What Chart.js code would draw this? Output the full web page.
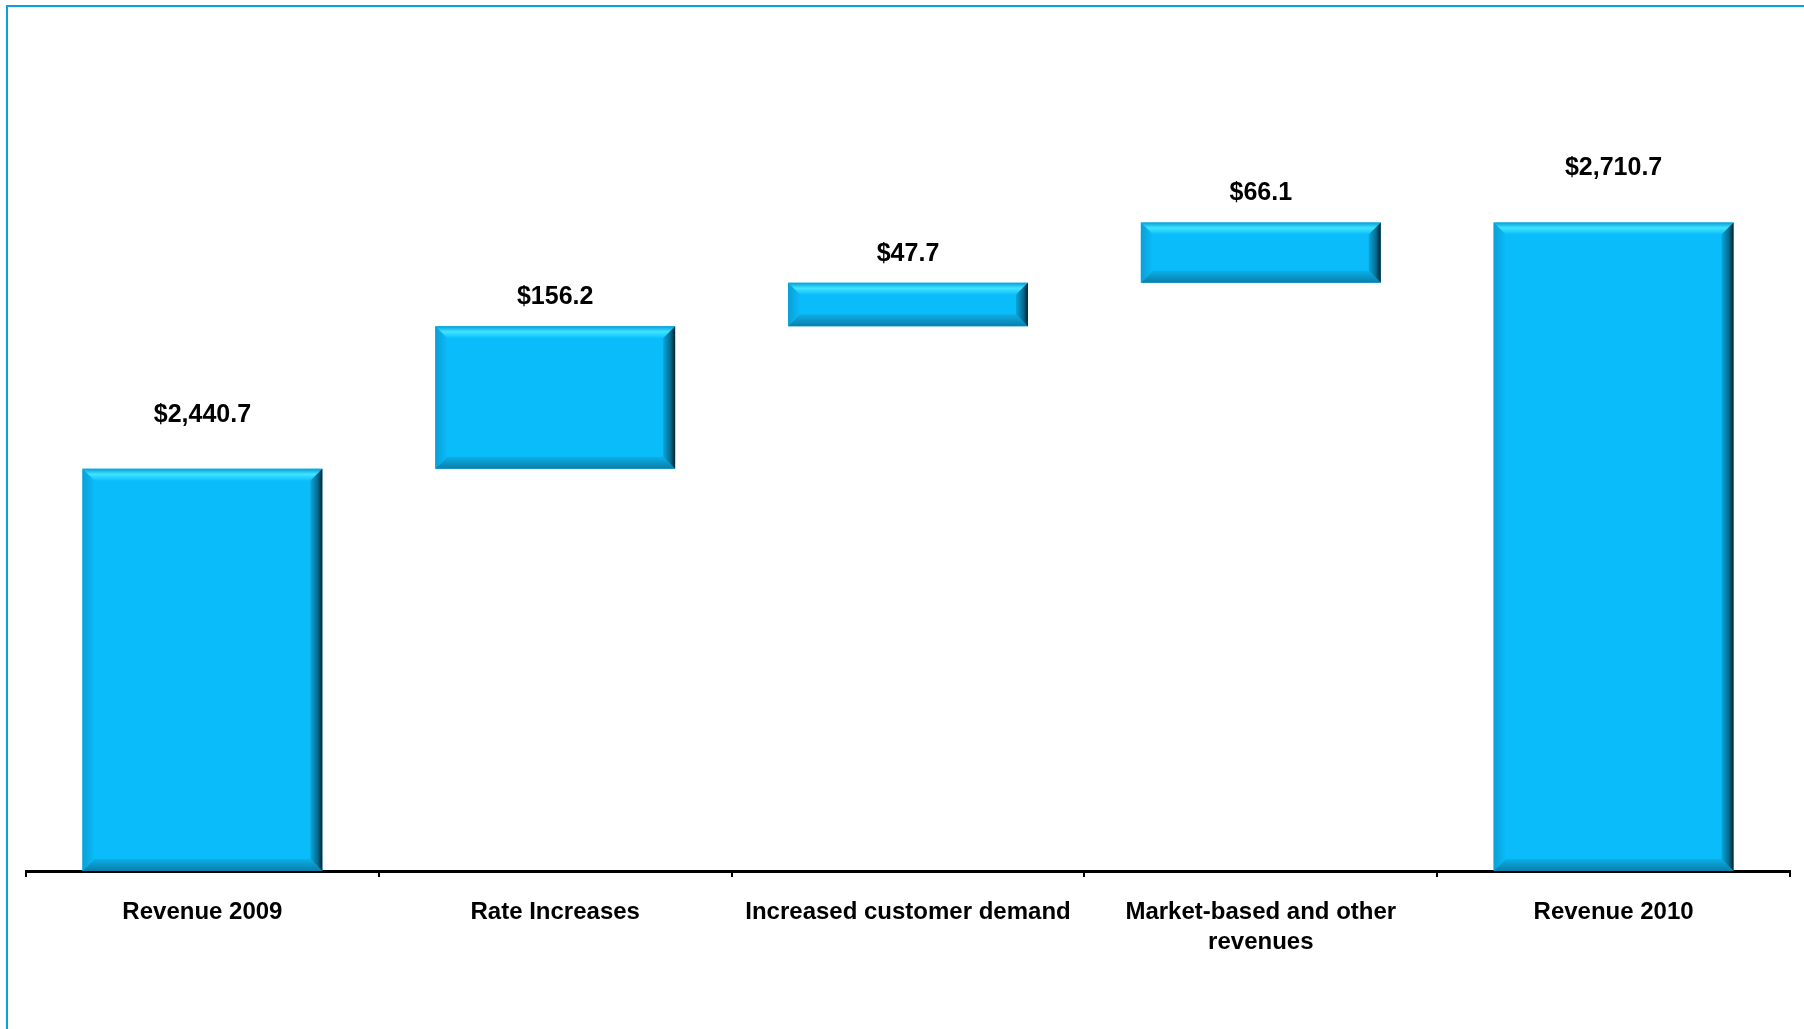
<!DOCTYPE html>
<html>
<head>
<meta charset="utf-8">
<script src="https://cdn.jsdelivr.net/npm/chart.js@4.4.1/dist/chart.umd.min.js"></script>
<style>
  html, body { margin: 0; padding: 0; background: #fff; }
  #wrap { position: relative; width: 1804px; height: 1029px; }
  #frame { position: absolute; left: 6px; top: 5px; right: 0; bottom: 0;
           border-top: 2px solid #0AA2DE; border-left: 2px solid #0AA2DE; pointer-events: none; }
</style>
</head>
<body>
<div id="wrap">
  <canvas id="myChart"></canvas>
  <div id="frame"></div>
</div>
<script>
// waterfall: revenue bridge 2009 -> 2010 ($ millions)
var categories = ['Revenue 2009', 'Rate Increases', 'Increased customer demand',
                  ['Market-based and other', 'revenues'], 'Revenue 2010'];
var values = [2440.7, 156.2, 47.7, 66.1, 2710.7];
var kinds = ['total', 'delta', 'delta', 'delta', 'total'];
var axisMin = 2000;
var axisMax = 2800;

// build floating [start, end] pairs
var ranges = [];
var running = 0;
values.forEach(function (v, i) {
    if (kinds[i] === 'total') {
        ranges.push([axisMin, v]);
        running = v;
    } else {
        ranges.push([running, running + v]);
        running = running + v;
    }
});

function money(v) {
    return '$' + v.toLocaleString('en-US', {minimumFractionDigits: 1, maximumFractionDigits: 1});
}

// bevelled look + value labels
var bevelPlugin = {
    id: 'bevel',
    afterDatasetsDraw: function (chart) {
        var ctx = chart.ctx;
        var meta = chart.getDatasetMeta(0);
        meta.data.forEach(function (bar, i) {
            var l = bar.x - bar.width / 2, r = bar.x + bar.width / 2;
            var t = Math.min(bar.y, bar.base), b = Math.max(bar.y, bar.base);
            var s = Math.min(12, (b - t) / 2);
            ctx.save();
            // top
            var g = ctx.createLinearGradient(0, t, 0, t + s);
            g.addColorStop(0, '#0A9ED6');
            g.addColorStop(0.45, '#3FE4FF');
            g.addColorStop(1, '#0BBEFB');
            ctx.fillStyle = g;
            ctx.beginPath();
            ctx.moveTo(l, t); ctx.lineTo(r, t); ctx.lineTo(r - s, t + s); ctx.lineTo(l + s, t + s);
            ctx.closePath(); ctx.fill();
            // bottom
            g = ctx.createLinearGradient(0, b - s, 0, b);
            g.addColorStop(0, '#0AAFE8');
            g.addColorStop(1, '#0A7EA8');
            ctx.fillStyle = g;
            ctx.beginPath();
            ctx.moveTo(l, b); ctx.lineTo(r, b); ctx.lineTo(r - s, b - s); ctx.lineTo(l + s, b - s);
            ctx.closePath(); ctx.fill();
            // left
            g = ctx.createLinearGradient(l, 0, l + s, 0);
            g.addColorStop(0, '#0A9FD6');
            g.addColorStop(1, '#0BBBF8');
            ctx.fillStyle = g;
            ctx.beginPath();
            ctx.moveTo(l, t); ctx.lineTo(l + s, t + s); ctx.lineTo(l + s, b - s); ctx.lineTo(l, b);
            ctx.closePath(); ctx.fill();
            // right
            g = ctx.createLinearGradient(r - s, 0, r, 0);
            g.addColorStop(0, '#0AA6DC');
            g.addColorStop(0.6, '#066C90');
            g.addColorStop(1, '#02222E');
            ctx.fillStyle = g;
            ctx.beginPath();
            ctx.moveTo(r, t); ctx.lineTo(r - s, t + s); ctx.lineTo(r - s, b - s); ctx.lineTo(r, b);
            ctx.closePath(); ctx.fill();
            // value label
            var gap = kinds[i] === 'total' ? 54 : 29;
            ctx.fillStyle = '#000';
            ctx.font = 'bold 25px "Liberation Sans", Arial, sans-serif';
            ctx.textAlign = 'center';
            ctx.textBaseline = 'middle';
            ctx.fillText(money(values[i]), bar.x, t - gap);
            ctx.restore();
        });
    }
};

var ctx = document.getElementById('myChart').getContext('2d');
var myChart = new Chart(ctx, {
    type: 'bar',
    data: {
        labels: categories,
        datasets: [{
            data: ranges,
            backgroundColor: '#0BBCFB',
            borderWidth: 0,
            barPercentage: 0.8,
            categoryPercentage: 0.85
        }]
    },
    options: {
        responsive: true,
        maintainAspectRatio: false,
        animation: false,
        layout: { padding: { left: 26, right: 14, top: 141, bottom: 52 } },
        plugins: {
            legend: { display: false },
            tooltip: { enabled: false }
        },
        scales: {
            x: {
                grid: {
                    offset: true,
                    drawOnChartArea: false,
                    drawTicks: true,
                    tickLength: 6,
                    color: '#000',
                    lineWidth: 2
                },
                border: { display: true, color: '#000', width: 3 },
                ticks: {
                    color: '#000',
                    padding: 20,
                    maxRotation: 0,
                    autoSkip: false,
                    font: { family: '"Liberation Sans", Arial, sans-serif', size: 24, weight: 'bold', lineHeight: 1.25 }
                }
            },
            y: {
                display: false,
                min: axisMin,
                max: axisMax
            }
        }
    },
    plugins: [bevelPlugin]
});
</script>
</body>
</html>
